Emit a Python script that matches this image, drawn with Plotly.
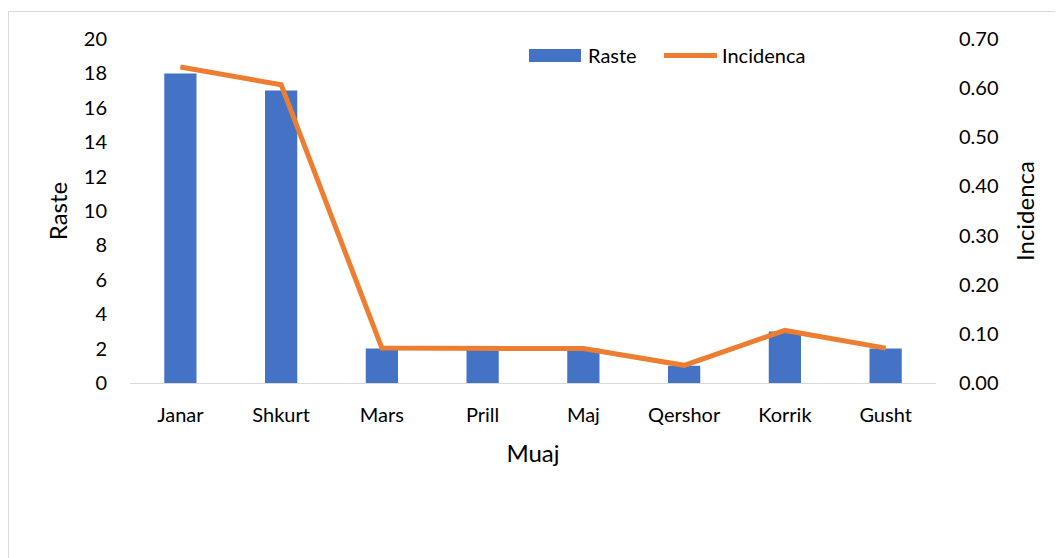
import plotly.graph_objects as go

# data
muajt = ['Janar', 'Shkurt', 'Mars', 'Prill', 'Maj', 'Qershor', 'Korrik', 'Gusht']
raste = [18, 17, 2, 2, 2, 1, 3, 2]
incidenca = [0.643, 0.607, 0.071, 0.070, 0.070, 0.036, 0.107, 0.071]

FONT = 'Lato'
BLUE = '#4472C4'
ORANGE = '#ED7D31'

W, H = 1063, 558
OFF = 8  # page body margin, figure starts 8px in from the window corner
# plot area in screen pixels: x 130..936, y 39..383
L, R, T, B = 130 - OFF, W - (936 - OFF), 39 - OFF, H - (383 - OFF)


def px(x):
    """screen pixel x -> paper x"""
    return (x - OFF - L) / (W - L - R)


def py(y):
    """screen pixel y -> paper y"""
    return (H - B - (y - OFF)) / (H - T - B)


fig = go.Figure()

# bars for cases (left axis)
fig.add_trace(go.Bar(x=muajt, y=raste, name='Raste',
                     marker=dict(color=BLUE, line=dict(width=0)),
                     yaxis='y'))

# incidence line (right axis)
fig.add_trace(go.Scatter(x=muajt, y=incidenca, name='Incidenca',
                         mode='lines', line=dict(color=ORANGE, width=5),
                         yaxis='y2'))

fig.update_layout(
    width=W, height=H,
    margin=dict(l=L, r=R, t=T, b=B),
    paper_bgcolor='white', plot_bgcolor='white',
    font=dict(family=FONT, size=20, color='#000000'),
    showlegend=False,
    bargap=0.68,
    xaxis=dict(showgrid=False, showline=True, linecolor='#d9d9d9', linewidth=1,
               ticks='outside', ticklen=14, tickcolor='rgba(0,0,0,0)',
               title=dict(text='Muaj', standoff=20),
               zeroline=False),
    yaxis=dict(range=[0, 20], dtick=2, showgrid=False, zeroline=False,
               ticks='outside', ticklen=18, tickcolor='rgba(0,0,0,0)',
               title=dict(text='Raste', standoff=9)),
    yaxis2=dict(range=[0, 0.7], dtick=0.1, tickformat='.2f', overlaying='y',
                side='right', showgrid=False, zeroline=False,
                ticks='outside', ticklen=18, tickcolor='rgba(0,0,0,0)',
                title=dict(text='Incidenca', standoff=19)),
)

# outer chart border
fig.add_shape(type='rect', xref='paper', yref='paper',
              x0=px(8.5), x1=px(1090), y0=py(11.5), y1=py(600),
              line=dict(color='#d9d9d9', width=1), layer='below')

# legend drawn by hand (Excel style long swatches)
fig.add_shape(type='rect', xref='paper', yref='paper',
              x0=px(529), x1=px(581), y0=py(62), y1=py(49),
              fillcolor=BLUE, line=dict(width=0))
fig.add_shape(type='line', xref='paper', yref='paper',
              x0=px(664), x1=px(717), y0=py(55.5), y1=py(55.5),
              line=dict(color=ORANGE, width=5))
fig.add_annotation(text='Raste', xref='paper', yref='paper',
                   x=px(586), y=py(55.5), xanchor='left', yanchor='middle',
                   showarrow=False, font=dict(family=FONT, size=20))
fig.add_annotation(text='Incidenca', xref='paper', yref='paper',
                   x=px(720), y=py(55.5), xanchor='left', yanchor='middle',
                   showarrow=False, font=dict(family=FONT, size=20))

fig.write_html('out.html')
